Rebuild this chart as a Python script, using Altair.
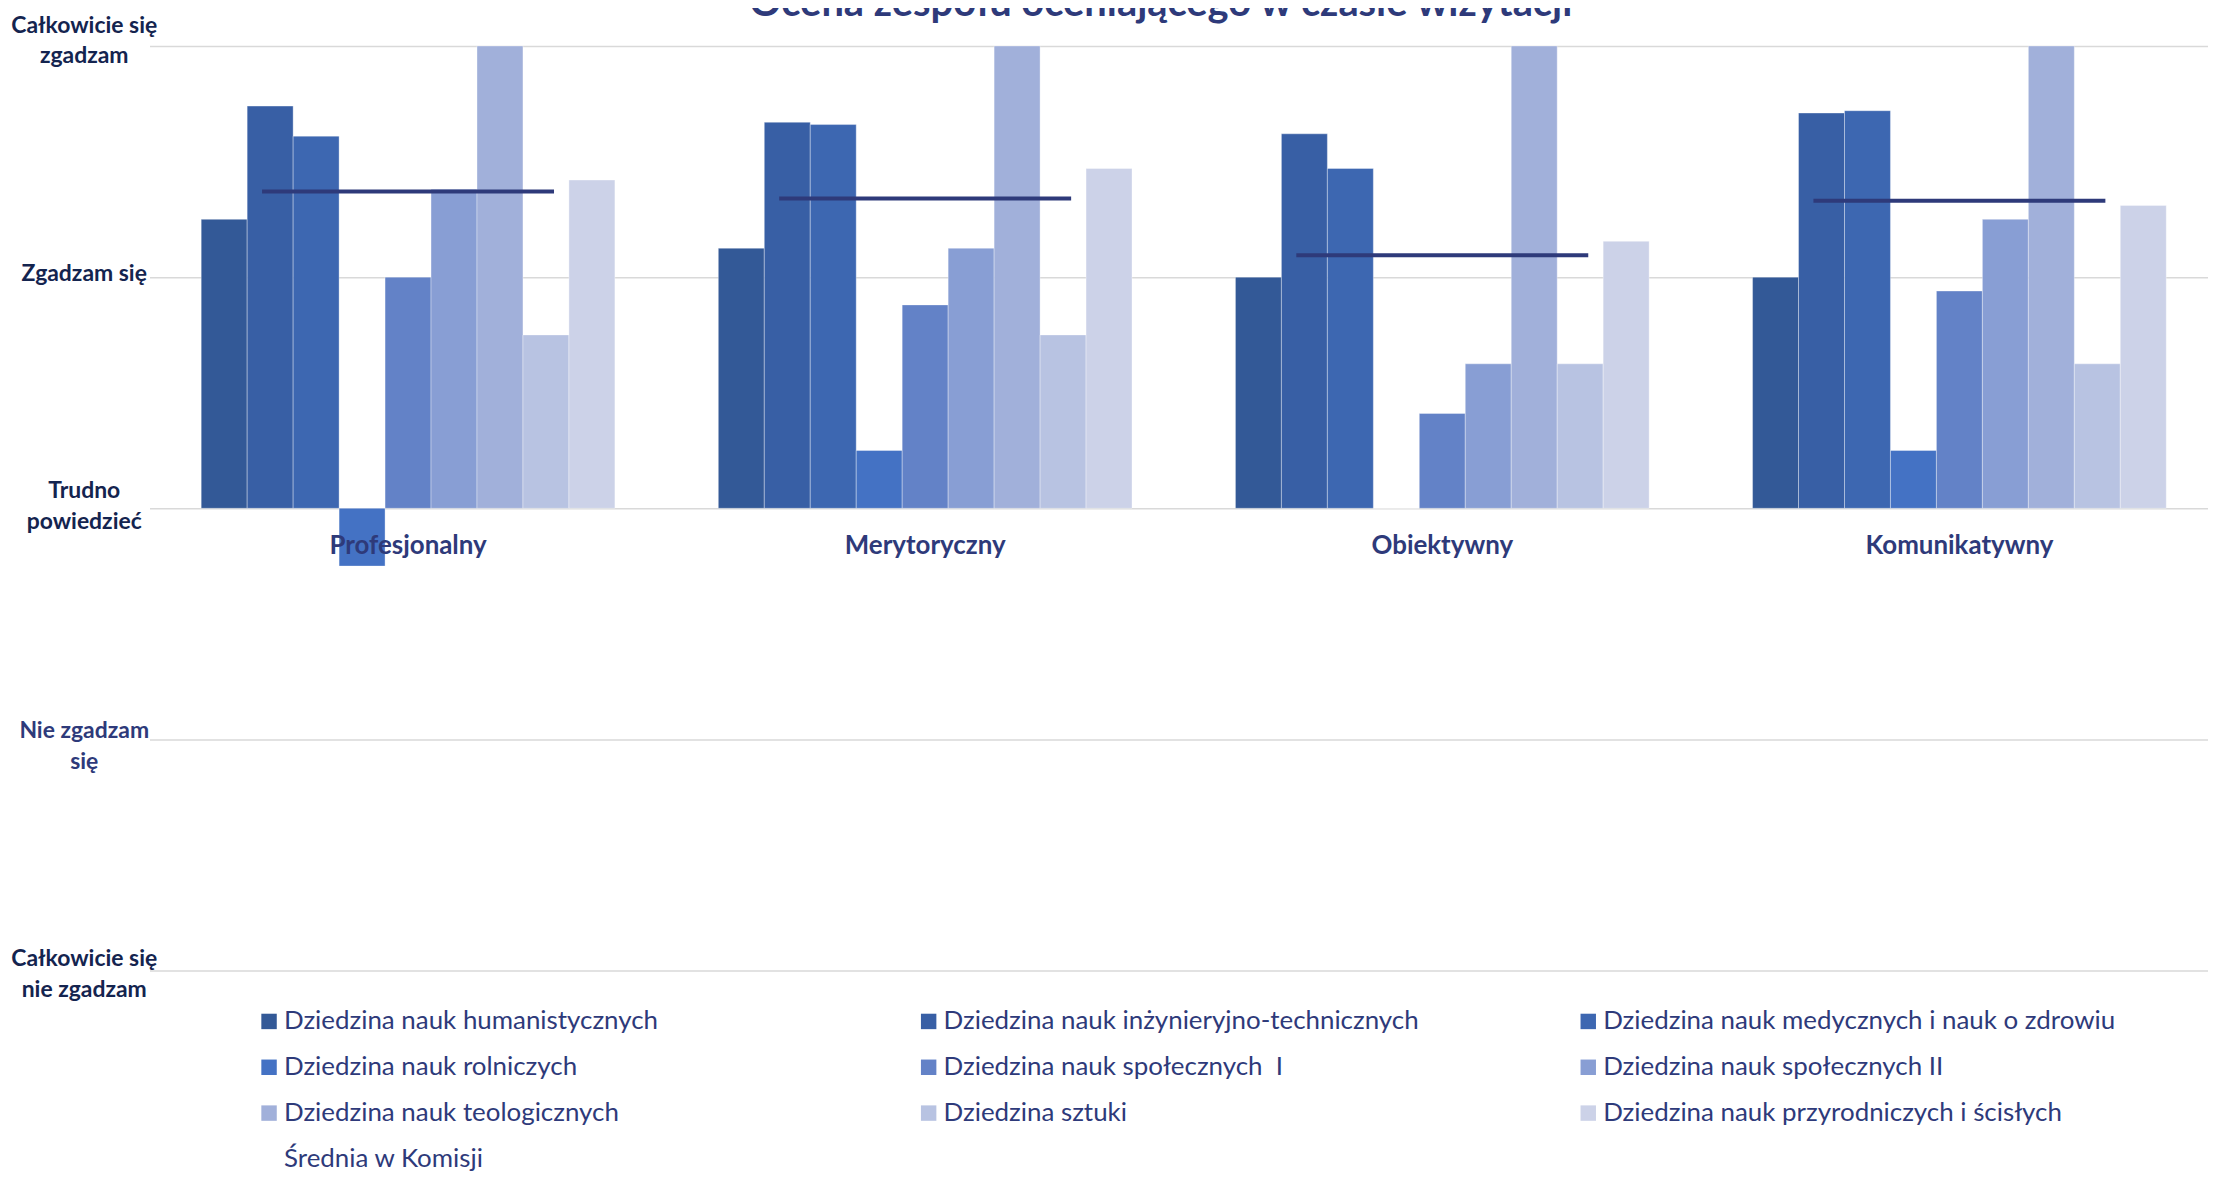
import altair as alt
import pandas as pd

title_text = "Ocena zespołu oceniającego w czasie wizytacji"
categories = ["Profesjonalny", "Merytoryczny", "Obiektywny", "Komunikatywny"]
series = [
    "Dziedzina nauk humanistycznych",
    "Dziedzina nauk inżynieryjno-technicznych",
    "Dziedzina nauk medycznych i nauk o zdrowiu",
    "Dziedzina nauk rolniczych",
    "Dziedzina nauk społecznych\u00a0 I",
    "Dziedzina nauk społecznych II",
    "Dziedzina nauk teologicznych",
    "Dziedzina sztuki",
    "Dziedzina nauk przyrodniczych i ścisłych",
]
mean_label = "Średnia w Komisji"

humanistycznych = [1.25, 1.125, 1.0, 1.0]
inzynieryjno = [1.74, 1.67, 1.62, 1.71]
medycznych = [1.61, 1.66, 1.47, 1.72]
rolniczych = [-0.25, 0.25, 0.0, 0.25]
spoleczne_1 = [1.0, 0.88, 0.41, 0.94]
spoleczne_2 = [1.38, 1.125, 0.625, 1.25]
teologicznych = [2.0, 2.0, 2.0, 2.0]
sztuki = [0.75, 0.75, 0.625, 0.625]
przyrodniczych = [1.42, 1.47, 1.155, 1.31]
srednia = [1.37, 1.34, 1.095, 1.33]

y_ticks = [-2, -1, 0, 1, 2]

colors = ["#335997", "#385FA5", "#3D67B1", "#4472C4", "#6382C7",
          "#889ED4", "#A1B0DA", "#B8C3E2", "#CCD2E8"]
mean_color = "#2E3A7A"
text_color = "#2E3A7A"

series_values = [humanistycznych, inzynieryjno, medycznych, rolniczych,
                 spoleczne_1, spoleczne_2, teologicznych, sztuki, przyrodniczych]
rows = []
for s, vals in zip(series, series_values):
    for c, v in zip(categories, vals):
        rows.append({"kategoria": c, "seria": s, "wartosc": v})
bars_df = pd.DataFrame(rows)
mean_df = pd.DataFrame({"kategoria": categories, "srednia": srednia})
cat_df = pd.DataFrame({"kategoria": categories})
title_df = pd.DataFrame({"t": [title_text]})

FONT = "Lato"

x_enc = alt.X("kategoria:N", sort=categories,
              scale=alt.Scale(paddingInner=0.2, paddingOuter=0.1), axis=None)

label_expr = (
    "datum.value == 2 ? ['Całkowicie się', 'zgadzam'] : "
    "datum.value == 1 ? 'Zgadzam się' : "
    "datum.value == 0 ? ['Trudno', 'powiedzieć'] : "
    "datum.value == -1 ? ['Nie zgadzam', 'się'] : "
    "['Całkowicie się', 'nie zgadzam']"
)

y_axis = alt.Axis(
    values=y_ticks, labelExpr=label_expr, title=None, domain=False, ticks=False,
    grid=True, gridColor="#D9D9D9", gridWidth=1.5,
    labelFont=FONT, labelFontWeight="bold", labelFontSize=23,
    labelColor=alt.expr("datum.value == -1 ? '#2E3A7A' : '#14244F'"),
    labelAlign="center", labelBaseline="middle", labelPadding=66,
    labelOffset=alt.expr(
        "datum.value == 2 ? -21 : datum.value == 1 ? -4 : "
        "datum.value == 0 ? -18 : datum.value == -1 ? -9 : -12"
    ),
    labelLineHeight=31, labelFlush=False, labelOverlap=False, labelBound=False,
)

y_scale = alt.Scale(domain=[-2, 2], nice=False, zero=True)

legend_domain = series + [mean_label]
legend_range = colors + ["#FFFFFF"]

bars = alt.Chart(bars_df).mark_bar(
    stroke="#FFFFFF", strokeWidth=1, strokeOpacity=0.35
).encode(
    x=x_enc,
    xOffset=alt.XOffset("seria:N", sort=series, scale=alt.Scale(paddingInner=0, paddingOuter=0)),
    y=alt.Y("wartosc:Q", scale=y_scale, axis=y_axis),
    color=alt.Color(
        "seria:N",
        scale=alt.Scale(domain=legend_domain, range=legend_range),
        legend=alt.Legend(
            title=None, orient="none", legendX=107, legendY=966,
            direction="horizontal",
            columns=3, gridAlign="all", columnPadding=119, rowPadding=20,
            symbolType="square", symbolSize=240, symbolStrokeWidth=0,
            labelFont=FONT, labelFontSize=26, labelColor=text_color,
            labelLimit=900, labelOffset=2, padding=0,
        ),
    ),
)

mean_ticks = alt.Chart(mean_df).mark_tick(
    thickness=4, size=293, color=mean_color, opacity=1
).encode(
    x=x_enc,
    y=alt.Y("srednia:Q", scale=y_scale),
)

cat_labels = alt.Chart(cat_df).mark_text(
    font=FONT, fontWeight="bold", fontSize=26, color=text_color,
    baseline="alphabetic", dy=46, align="center"
).encode(
    x=x_enc,
    y=alt.datum(0, scale=y_scale),
    text="kategoria:N",
)

title = alt.Chart(title_df).mark_text(
    font=FONT, fontWeight="bold", fontSize=40, color=text_color,
    baseline="alphabetic", align="center"
).encode(
    x=alt.value(1015), y=alt.value(-30), text="t:N"
)

chart = alt.layer(bars, mean_ticks, cat_labels, title).properties(
    width=2076, height=928,
    autosize=alt.AutoSizeParams(type="none"),
    padding={"left": 142, "top": 36, "right": -10, "bottom": 201},
).configure_view(stroke=None)

chart.save("out.html", embed_options={"renderer": "svg", "actions": False})
